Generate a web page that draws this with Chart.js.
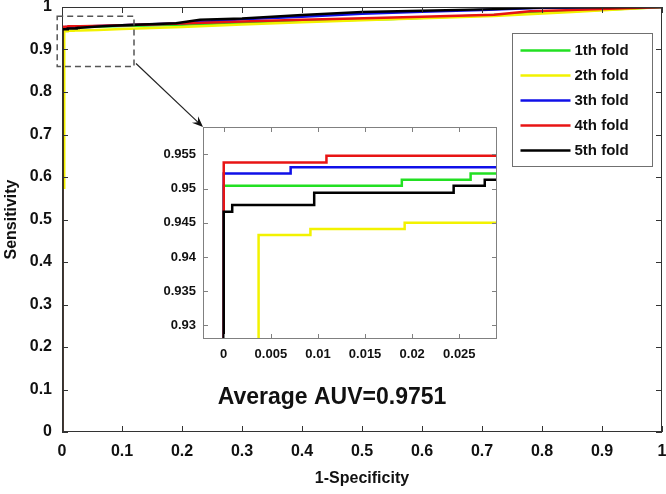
<!DOCTYPE html>
<html>
<head>
<meta charset="utf-8">
<script src="https://cdn.jsdelivr.net/npm/chart.js@4.4.1/dist/chart.umd.min.js"></script>
<style>
  html, body { margin: 0; padding: 0; background: #fff; }
  #wrap { position: relative; width: 666px; height: 494px; background: #fff; }
  #mainChart { position: absolute; left: 0; top: 0; }
  #insetChart { position: absolute; left: 150px; top: 118px; }
</style>
</head>
<body>
<div id="wrap">
  <canvas id="mainChart" width="666" height="494"></canvas>
  <canvas id="insetChart" width="360" height="255"></canvas>
</div>
<script>
// ROC curves of the five folds: x = 1-specificity, y = sensitivity
const foldNames = ['1th fold', '2th fold', '3th fold', '4th fold', '5th fold'];
const foldColors = ['#22e022', '#f2f200', '#1010e8', '#e81414', '#000000'];

const fpr1 = [0, 0, 0.0189, 0.0189, 0.0262, 0.0262, 0.03, 0.05, 0.1, 0.2, 0.3, 0.4, 0.55, 0.72, 0.85, 1];
const tpr1 = [0, 0.9504, 0.9504, 0.9513, 0.9513, 0.9522, 0.9522, 0.9535, 0.955, 0.958, 0.963, 0.967, 0.972, 0.981, 0.99, 1];

const fpr2 = [0, 0, 0.0037, 0.0037, 0.0092, 0.0092, 0.0192, 0.0192, 0.03, 0.06, 0.1, 0.2, 0.3, 0.4, 0.55, 0.72, 0.85, 1];
const tpr2 = [0, 0.575, 0.575, 0.9432, 0.9432, 0.9441, 0.9441, 0.945, 0.945, 0.946, 0.948, 0.953, 0.959, 0.964, 0.971, 0.979, 0.988, 1];

const fpr3 = [0, 0, 0.0071, 0.0071, 0.03, 0.05, 0.1, 0.2, 0.3, 0.4, 0.5, 0.6, 0.7, 0.8, 1];
const tpr3 = [0, 0.9522, 0.9522, 0.9531, 0.9531, 0.955, 0.957, 0.962, 0.971, 0.977, 0.984, 0.989, 0.993, 0.998, 1];

const fpr4 = [0, 0, 0.0109, 0.0109, 0.03, 0.05, 0.1, 0.2, 0.3, 0.4, 0.52, 0.6, 0.72, 0.78, 0.9, 1];
const tpr4 = [0, 0.9538, 0.9538, 0.9548, 0.9548, 0.9555, 0.957, 0.961, 0.966, 0.97, 0.974, 0.977, 0.982, 0.99, 0.995, 1];

const fpr5 = [0, 0, 0.0009, 0.0009, 0.0096, 0.0096, 0.0244, 0.0244, 0.0277, 0.0277, 0.03, 0.06, 0.1, 0.19, 0.23, 0.3, 0.4, 0.5, 0.6, 0.72, 0.8, 1];
const tpr5 = [0, 0.9466, 0.9466, 0.9476, 0.9476, 0.9494, 0.9494, 0.9504, 0.9504, 0.9513, 0.9513, 0.954, 0.957, 0.962, 0.97, 0.973, 0.981, 0.988, 0.991, 0.995, 0.999, 1];

const fprs = [fpr1, fpr2, fpr3, fpr4, fpr5];
const tprs = [tpr1, tpr2, tpr3, tpr4, tpr5];

// tick labels
const mainTicks = [0, 0.1, 0.2, 0.3, 0.4, 0.5, 0.6, 0.7, 0.8, 0.9, 1];
const insetXTicks = [0, 0.005, 0.01, 0.015, 0.02, 0.025];
const insetYTicks = [0.93, 0.935, 0.94, 0.945, 0.95, 0.955];

const averageAuv = 'Average AUV=0.9751';

const FONT = "'Liberation Sans', Arial, sans-serif";

function makeDatasets(clip) {
    return fprs.map((fpr, k) => ({
        label: foldNames[k],
        data: fpr.map((x, i) => ({x: x, y: tprs[k][i]})),
        borderColor: foldColors[k],
        borderWidth: 2.5,
        pointRadius: 0,
        tension: 0,
        fill: false,
        clip: clip,
        order: 4 - k // 5th fold on top, like matlab
    }));
}

// fixed axis size, no extra padding for labels hanging over the ends
function fixSize(size) {
    return s => {
        if (s.isHorizontal()) s.height = size; else s.width = size;
        s.paddingTop = 0; s.paddingBottom = 0; s.paddingLeft = 0; s.paddingRight = 0;
    };
}

// box round the axes with inward ticks on all four sides
const boxTicks = {
    id: 'boxTicks',
    beforeDraw(chart, args, opts) {
        if (!opts.fill) return;
        const a = chart.chartArea;
        chart.ctx.save();
        chart.ctx.fillStyle = opts.fill;
        chart.ctx.fillRect(a.left, a.top, a.width, a.height);
        chart.ctx.restore();
    },
    afterDraw(chart, args, opts) {
        const {ctx, chartArea: a, scales: {x, y}} = chart;
        const len = opts.length || 6;
        ctx.save();
        ctx.strokeStyle = opts.color || '#444';
        ctx.lineWidth = 1;
        ctx.beginPath();
        x.ticks.forEach(t => {
            const px = Math.round(x.getPixelForValue(t.value)) + 0.5;
            ctx.moveTo(px, a.bottom); ctx.lineTo(px, a.bottom - len);
            ctx.moveTo(px, a.top); ctx.lineTo(px, a.top + len);
        });
        y.ticks.forEach(t => {
            const py = Math.round(y.getPixelForValue(t.value)) + 0.5;
            ctx.moveTo(a.left, py); ctx.lineTo(a.left + len, py);
            ctx.moveTo(a.right, py); ctx.lineTo(a.right - len, py);
        });
        ctx.stroke();
        ctx.strokeRect(Math.round(a.left) + 0.5, Math.round(a.top) + 0.5,
            Math.round(a.width) - 1, Math.round(a.height) - 1);
        ctx.restore();
    }
};

function tickFont(size) {
    return {family: FONT, size: size, weight: 'bold'};
}

const noGrid = {display: false, drawTicks: false};

// ---- inset (zoom of the top left corner) ----
const insetChart = new Chart(document.getElementById('insetChart'), {
    type: 'line',
    data: {datasets: makeDatasets(0)},
    options: {
        responsive: false,
        animation: false,
        layout: {padding: {top: 9, right: 13, left: 0, bottom: 0}},
        plugins: {
            legend: {display: false},
            tooltip: {enabled: false},
            boxTicks: {color: '#808080', length: 5, fill: '#ffffff'}
        },
        scales: {
            x: {
                type: 'linear', min: -0.0022, max: 0.029,
                grid: noGrid, border: {display: false},
                afterBuildTicks: s => { s.ticks = insetXTicks.map(v => ({value: v})); },
                afterFit: fixSize(34),
                ticks: {padding: 8, color: '#111', font: tickFont(13), maxRotation: 0, autoSkip: false,
                    callback: v => String(v)}
            },
            y: {
                type: 'linear', min: 0.928, max: 0.959,
                grid: noGrid, border: {display: false},
                afterBuildTicks: s => { s.ticks = insetYTicks.map(v => ({value: v})); },
                afterFit: fixSize(53),
                ticks: {padding: 7, color: '#111', font: tickFont(13), autoSkip: false,
                    callback: v => String(v)}
            }
        }
    },
    plugins: [boxTicks]
});

// dashed box, arrow, legend and the AUV text on the main axes
const zoomMarks = {
    id: 'zoomMarks',
    afterDraw(chart) {
        const {ctx, chartArea: a, scales: {x, y}} = chart;
        ctx.save();

        // dashed rectangle round the zoomed region
        const x1 = x.getPixelForValue(-0.008), x2 = x.getPixelForValue(0.12);
        const y1 = y.getPixelForValue(0.978), y2 = y.getPixelForValue(0.86);
        ctx.strokeStyle = '#555';
        ctx.lineWidth = 1.5;
        ctx.setLineDash([6, 4]);
        ctx.strokeRect(x1, y1, x2 - x1, y2 - y1);
        ctx.setLineDash([]);

        // arrow to the inset corner
        const cv = insetChart.canvas;
        const ex = cv.offsetLeft + insetChart.chartArea.left;
        const ey = cv.offsetTop + insetChart.chartArea.top;
        const sx = x2 + 2, sy = y2 - 3;
        const ang = Math.atan2(ey - sy, ex - sx);
        ctx.strokeStyle = '#222';
        ctx.lineWidth = 1.2;
        ctx.beginPath();
        ctx.moveTo(sx, sy);
        ctx.lineTo(ex - 6 * Math.cos(ang), ey - 6 * Math.sin(ang));
        ctx.stroke();
        ctx.fillStyle = '#111';
        ctx.beginPath();
        ctx.moveTo(ex, ey);
        ctx.lineTo(ex - 11 * Math.cos(ang) + 4.5 * Math.sin(ang), ey - 11 * Math.sin(ang) - 4.5 * Math.cos(ang));
        ctx.lineTo(ex - 7 * Math.cos(ang), ey - 7 * Math.sin(ang));
        ctx.lineTo(ex - 11 * Math.cos(ang) - 4.5 * Math.sin(ang), ey - 11 * Math.sin(ang) + 4.5 * Math.cos(ang));
        ctx.closePath();
        ctx.fill();

        // legend
        const lw = 140, lh = 133;
        const lx = Math.round(a.right - 10 - lw) + 0.5, ly = Math.round(a.top + 26) + 0.5;
        ctx.fillStyle = '#fff';
        ctx.fillRect(lx, ly, lw, lh);
        ctx.strokeStyle = '#707070';
        ctx.lineWidth = 1;
        ctx.strokeRect(lx, ly, lw, lh);
        ctx.font = 'bold 15px ' + FONT;
        ctx.textBaseline = 'middle';
        ctx.textAlign = 'left';
        foldNames.forEach((name, k) => {
            const ry = ly + 17 + k * 25;
            ctx.strokeStyle = foldColors[k];
            ctx.lineWidth = 2.5;
            ctx.beginPath();
            ctx.moveTo(lx + 8, ry);
            ctx.lineTo(lx + 58, ry);
            ctx.stroke();
            ctx.fillStyle = '#111';
            ctx.fillText(name, lx + 62, ry);
        });

        // average AUV text
        ctx.font = 'bold 23px ' + FONT;
        ctx.textAlign = 'center';
        ctx.fillStyle = '#111';
        ctx.fillText(averageAuv, x.getPixelForValue(0.45), y.getPixelForValue(0.08));
        ctx.restore();
    }
};

// ---- main ROC plot ----
new Chart(document.getElementById('mainChart'), {
    type: 'line',
    data: {datasets: makeDatasets(undefined)},
    options: {
        responsive: false,
        animation: false,
        layout: {padding: {top: 7, right: 4, left: 0, bottom: 0}},
        plugins: {
            legend: {display: false},
            tooltip: {enabled: false},
            boxTicks: {color: '#333', length: 6}
        },
        scales: {
            x: {
                type: 'linear', min: 0, max: 1,
                grid: noGrid, border: {display: false},
                afterBuildTicks: s => { s.ticks = mainTicks.map(v => ({value: v})); },
                afterFit: fixSize(62),
                ticks: {padding: 10, color: '#111', font: tickFont(16), maxRotation: 0, autoSkip: false,
                    callback: v => String(v)},
                title: {display: true, text: '1-Specificity', color: '#111', font: tickFont(16),
                    padding: {top: 0, bottom: 6}}
            },
            y: {
                type: 'linear', min: 0, max: 1,
                grid: noGrid, border: {display: false},
                afterBuildTicks: s => { s.ticks = mainTicks.map(v => ({value: v})); },
                afterFit: fixSize(62),
                ticks: {padding: 10, color: '#111', font: tickFont(16), autoSkip: false,
                    callback: v => String(v)},
                title: {display: true, text: 'Sensitivity', color: '#111', font: tickFont(16),
                    padding: {top: 2, bottom: 0}}
            }
        }
    },
    plugins: [boxTicks, zoomMarks]
});
</script>
</body>
</html>
